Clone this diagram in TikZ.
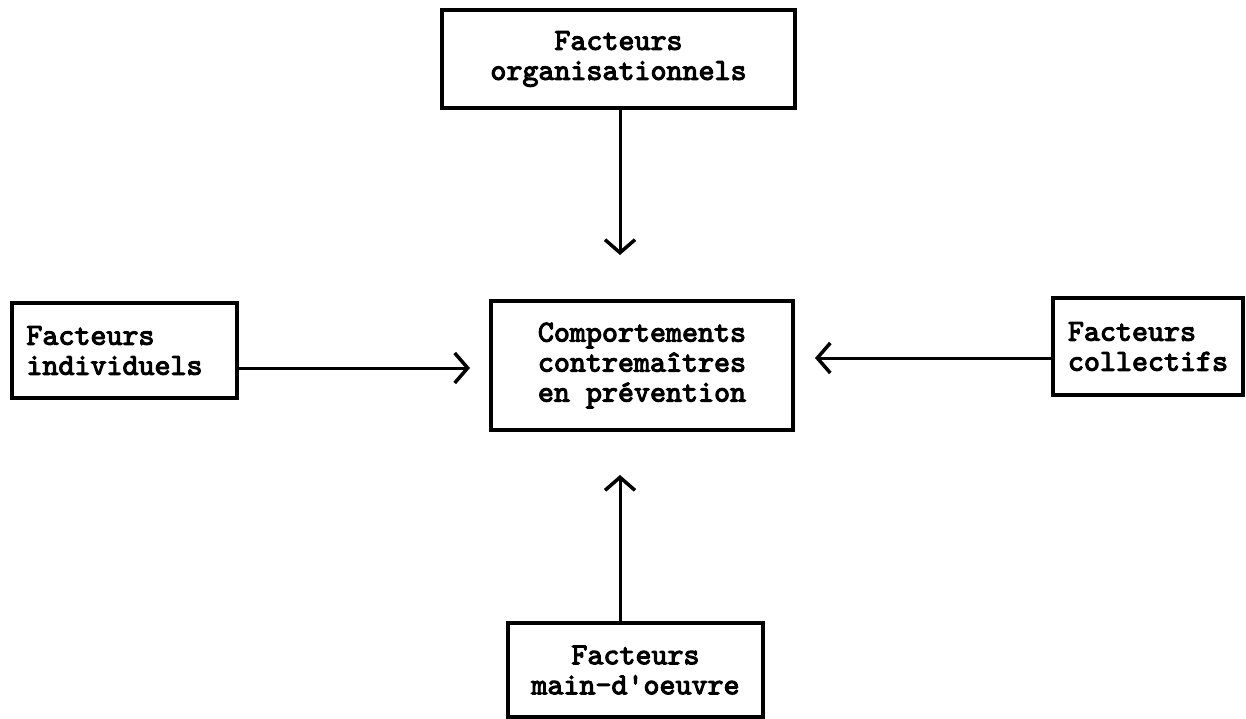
\documentclass[tikz,border=0pt]{standalone}
\usepackage{fontspec}
\newfontfamily\boxmono{lmmono10-regular.otf}[FakeBold=3.5]
\usetikzlibrary{arrows.meta}
\begin{document}
\begin{tikzpicture}[x=1pt,y=-1pt,
  box/.style={draw=black, line width=3.2pt, inner sep=0pt, font=\boxmono\bfseries\fontsize{30.5}{30}\selectfont},
  arr/.style={line width=3pt, -{Straight Barb[length=13pt,width=30pt,line width=3.5pt]}}]
\useasboundingbox (0,0) rectangle (1246,719);
\node[box, minimum width=353pt, minimum height=98pt, align=center] (top) at (618.5,59) {Facteurs\\organisationnels};
\node[box, minimum width=302pt, minimum height=129pt, align=left] (mid) at (642,365.5) {Comportements\\contremaîtres\\en prévention};
\node[box, minimum width=225pt, minimum height=95pt, align=left] (left) at (124.5,350.5) {Facteurs\\individuels\hspace*{20pt}};
\node[box, minimum width=190pt, minimum height=97pt, align=left] (right) at (1148,346.5) {Facteurs\\collectifs};
\node[box, minimum width=255pt, minimum height=94pt, align=center] (bot) at (635.5,670) {Facteurs\\main-d'oeuvre};
\coordinate (tT) at (620,255);
\coordinate (tL) at (470,368);
\coordinate (tR) at (815,358);
\coordinate (tB) at (620,475);
\draw[arr] (top.south -| tT) -- (tT);
\draw[arr] (left.east |- tL) -- (tL);
\draw[arr] (right.west |- tR) -- (tR);
\draw[arr] (bot.north -| tB) -- (tB);
\end{tikzpicture}
\end{document}
